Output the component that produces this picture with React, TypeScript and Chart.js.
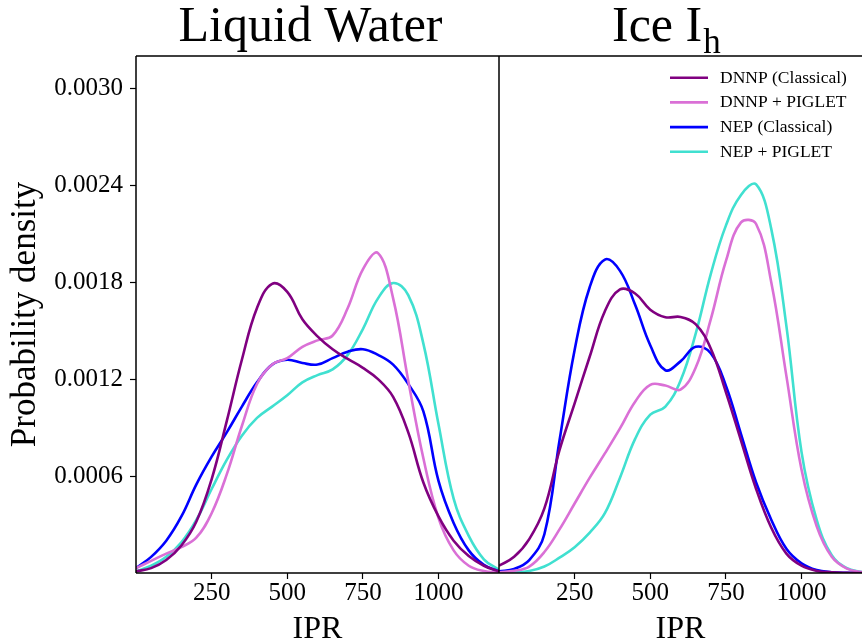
import React, { useEffect, useRef } from "react";
import { Chart, registerables } from "chart.js";

Chart.register(...registerables);

// ---------- data ----------
const ipr = [0, 50, 100, 150, 200, 250, 300, 350, 400, 450, 500, 550, 600, 650, 700, 750, 800, 850, 900, 950, 1000, 1050, 1100, 1150, 1200];

const xTickValues = [250, 500, 750, 1000];
const yTickValues = [0.0006, 0.0012, 0.0018, 0.0024, 0.003];

const seriesLabels = ["DNNP (Classical)", "DNNP + PIGLET", "NEP (Classical)", "NEP + PIGLET"];

// Liquid water
const waterDnnpClassical = [0.00001, 0.00003, 0.00008, 0.00017, 0.00032, 0.00058, 0.00094, 0.00132, 0.00164, 0.00179, 0.00174, 0.00157, 0.001465, 0.001385, 0.001325, 0.00127, 0.0012, 0.00109, 0.00087, 0.00056, 0.00035, 0.0002, 0.000105, 0.000045, 0.00001];
const waterDnnpPiglet = [0.00003, 0.000075, 0.00012, 0.00016, 0.00022, 0.00037, 0.00061, 0.00091, 0.00117, 0.00129, 0.00133, 0.0014, 0.00144, 0.00147, 0.00164, 0.00188, 0.00198, 0.0017, 0.00119, 0.00071, 0.00034, 0.00014, 0.000045, 0.000012, 0.000003];
const waterNepClassical = [0.00003, 0.0001, 0.0002, 0.00035, 0.00055, 0.00072, 0.00087, 0.00103, 0.00118, 0.00129, 0.00132, 0.0013, 0.00129, 0.00133, 0.00137, 0.001385, 0.00135, 0.00129, 0.00117, 0.001, 0.00057, 0.00031, 0.00014, 0.00005, 0.00001];
const waterNepPiglet = [0.00001, 0.000045, 0.0001, 0.00019, 0.00033, 0.00052, 0.0007, 0.00085, 0.00096, 0.00103, 0.0011, 0.00118, 0.001225, 0.00126, 0.00135, 0.00151, 0.0017, 0.001795, 0.00172, 0.00142, 0.00092, 0.00046, 0.00023, 0.000085, 0.00002];

// Ice Ih
const iceDnnpClassical = [0.000045, 0.0001, 0.00021, 0.0004, 0.00076, 0.00105, 0.00134, 0.00162, 0.001755, 0.00173, 0.00163, 0.001583, 0.001585, 0.00154, 0.00139, 0.00112, 0.00082, 0.00052, 0.00028, 0.00012, 0.000045, 0.000013, 0.000004, 0.000001, 0];
const iceDnnpPiglet = [0.000005, 0.000013, 0.00004, 0.00013, 0.00027, 0.00043, 0.00059, 0.00074, 0.000895, 0.00106, 0.001165, 0.00116, 0.001135, 0.00127, 0.00157, 0.00193, 0.00217, 0.00216, 0.0018, 0.00122, 0.00064, 0.00029, 0.0001, 0.000027, 0.000005];
const iceNepClassical = [0.00001, 0.000025, 0.00008, 0.00024, 0.00082, 0.00138, 0.00177, 0.00194, 0.00187, 0.00166, 0.00141, 0.001255, 0.00131, 0.0014, 0.00136, 0.00116, 0.00086, 0.00056, 0.00033, 0.00015, 0.00006, 0.000018, 0.000005, 0.000001, 0];
const iceNepPiglet = [0, 0.000003, 0.000012, 0.00004, 0.000095, 0.00016, 0.00025, 0.00037, 0.00059, 0.00083, 0.00098, 0.00103, 0.00119, 0.00148, 0.00185, 0.00215, 0.00234, 0.002405, 0.00213, 0.00153, 0.00075, 0.00033, 0.00011, 0.00003, 0.000005];

// ---------- styling ----------
const FONT = "'Liberation Serif', 'Times New Roman', serif";
const COLORS = ["#800080", "#DA70D6", "#0000FF", "#40E0D0"];

function makeDatasets(series: number[][]) {
  return series.map((vals, i) => ({
    label: seriesLabels[i],
    data: ipr.map((x, j) => ({ x, y: vals[j] })),
    borderColor: COLORS[i],
    backgroundColor: COLORS[i],
    borderWidth: 2.6,
    pointRadius: 0,
    tension: 0.4,
    fill: false,
  }));
}

function framePlugin(sides: string) {
  return {
    id: "frame",
    afterDatasetsDraw(chart: any) {
      const { ctx, chartArea } = chart;
      const { left, right, top, bottom } = chartArea;
      ctx.save();
      ctx.strokeStyle = "#000";
      ctx.lineWidth = 1.5;
      ctx.beginPath();
      if (sides.includes("t")) { ctx.moveTo(left, top); ctx.lineTo(right, top); }
      if (sides.includes("b")) { ctx.moveTo(left, bottom); ctx.lineTo(right, bottom); }
      if (sides.includes("l")) { ctx.moveTo(left, top); ctx.lineTo(left, bottom); }
      if (sides.includes("r")) { ctx.moveTo(right, top); ctx.lineTo(right, bottom); }
      ctx.stroke();
      ctx.restore();
    },
  };
}

const leftTitlePlugin = {
  id: "panelTitleLeft",
  afterDraw(chart: any) {
    const { ctx, chartArea } = chart;
    ctx.save();
    ctx.fillStyle = "#000";
    ctx.font = `50px ${FONT}`;
    ctx.textAlign = "center";
    ctx.textBaseline = "alphabetic";
    ctx.fillText("Liquid Water", (chartArea.left + chartArea.right) / 2 - 7, 41);
    ctx.restore();
  },
};

const rightTitlePlugin = {
  id: "panelTitleRight",
  afterDraw(chart: any) {
    const { ctx } = chart;
    ctx.save();
    ctx.fillStyle = "#000";
    ctx.textBaseline = "alphabetic";
    ctx.textAlign = "left";
    ctx.font = `50px ${FONT}`;
    const main = "Ice I";
    const x0 = 113;
    ctx.fillText(main, x0, 41);
    const w = ctx.measureText(main).width;
    ctx.font = `35px ${FONT}`;
    ctx.fillText("h", x0 + w + 1, 53);
    ctx.restore();
  },
};

const legendPlugin = {
  id: "insideLegend",
  afterDatasetsDraw(chart: any) {
    const { ctx, chartArea } = chart;
    const x1 = chartArea.right - 192;
    const x2 = x1 + 38;
    const tx = x2 + 12;
    ctx.save();
    ctx.font = `17.5px ${FONT}`;
    ctx.textBaseline = "middle";
    ctx.textAlign = "left";
    chart.data.datasets.forEach((ds: any, i: number) => {
      const y = chartArea.top + 21.7 + i * 24.7;
      ctx.strokeStyle = ds.borderColor;
      ctx.lineWidth = 2.6;
      ctx.beginPath();
      ctx.moveTo(x1, y);
      ctx.lineTo(x2, y);
      ctx.stroke();
      ctx.fillStyle = "#000";
      ctx.fillText(ds.label, tx, y + 0.5);
    });
    ctx.restore();
  },
};

function xScale() {
  return {
    type: "linear" as const,
    min: 0,
    max: 1200,
    afterBuildTicks: (s: any) => { s.ticks = xTickValues.map((v) => ({ value: v })); },
    afterFit: (s: any) => { s.height = 70; },
    grid: { display: true, drawOnChartArea: false, drawTicks: true, tickLength: 6, tickColor: "#000", tickWidth: 1.2 },
    border: { display: false },
    ticks: {
      color: "#000",
      font: { family: FONT, size: 25, lineHeight: 1 },
      padding: 2,
      maxRotation: 0,
      autoSkip: false,
      callback: (v: any) => String(v),
    },
    title: {
      display: true,
      text: "IPR",
      color: "#000",
      font: { family: FONT, size: 32, lineHeight: 0.85 },
      padding: { top: 0, bottom: 0 },
    },
  };
}

function yScale(show: boolean) {
  return {
    type: "linear" as const,
    min: 0,
    max: 0.0032,
    display: show,
    afterBuildTicks: (s: any) => { s.ticks = yTickValues.map((v) => ({ value: v })); },
    afterFit: (s: any) => { if (show) s.width = 136; },
    grid: { display: true, drawOnChartArea: false, drawTicks: true, tickLength: 6, tickColor: "#000", tickWidth: 1.2 },
    border: { display: false },
    ticks: {
      color: "#000",
      font: { family: FONT, size: 25, lineHeight: 1 },
      padding: 7,
      autoSkip: false,
      callback: (v: any) => Number(v).toFixed(4),
    },
    title: {
      display: show,
      text: "Probability density",
      color: "#000",
      font: { family: FONT, size: 35, lineHeight: 1.2 },
      padding: { top: 5, bottom: 0 },
    },
  };
}

function baseOptions(showY: boolean) {
  return {
    responsive: false,
    animation: false as const,
    layout: { padding: { top: 56, left: 0, right: 0, bottom: 0 } },
    plugins: {
      legend: { display: false },
      tooltip: { enabled: false },
      title: { display: false },
    },
    scales: {
      x: xScale(),
      y: yScale(showY),
    },
  };
}

export default function App() {
  const leftRef = useRef<HTMLCanvasElement>(null);
  const rightRef = useRef<HTMLCanvasElement>(null);

  useEffect(() => {
    const left = new Chart(leftRef.current as HTMLCanvasElement, {
      type: "line",
      data: { datasets: makeDatasets([waterDnnpClassical, waterDnnpPiglet, waterNepClassical, waterNepPiglet]) as any },
      options: baseOptions(true) as any,
      plugins: [framePlugin("tblr"), leftTitlePlugin],
    });
    const right = new Chart(rightRef.current as HTMLCanvasElement, {
      type: "line",
      data: { datasets: makeDatasets([iceDnnpClassical, iceDnnpPiglet, iceNepClassical, iceNepPiglet]) as any },
      options: baseOptions(false) as any,
      plugins: [framePlugin("tbl"), rightTitlePlugin, legendPlugin],
    });
    return () => {
      left.destroy();
      right.destroy();
    };
  }, []);

  return (
    <div style={{ position: "fixed", left: 0, top: 0, width: 862, height: 643, background: "#fff", overflow: "hidden" }}>
      <canvas ref={leftRef} width={499} height={643} style={{ position: "absolute", left: 0, top: 0 }} />
      <canvas ref={rightRef} width={363} height={643} style={{ position: "absolute", left: 499, top: 0 }} />
    </div>
  );
}
